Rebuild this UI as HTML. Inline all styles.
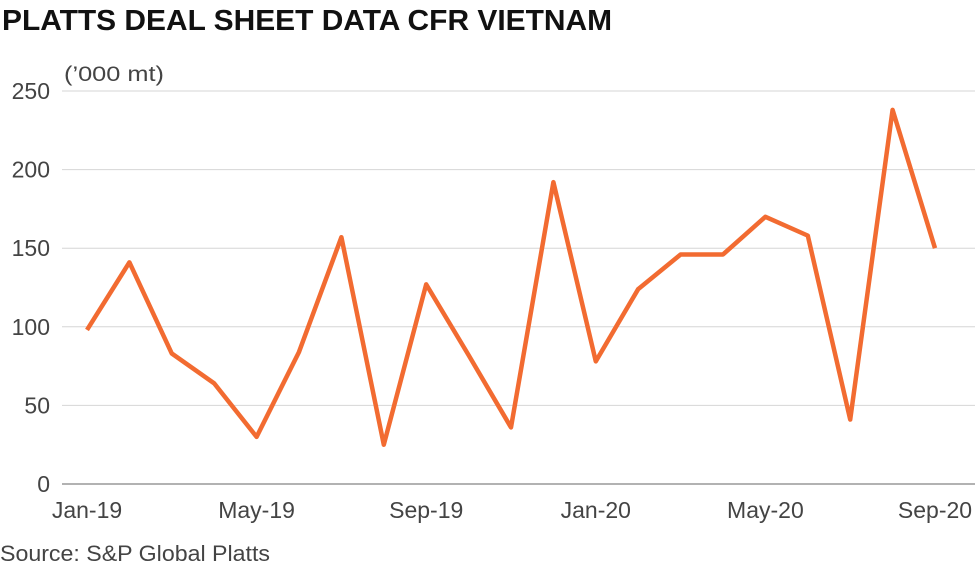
<!DOCTYPE html>
<html><head><meta charset="utf-8"><style>
body{margin:0;background:#fff;}
svg{display:block;font-family:"Liberation Sans",sans-serif;}
</style></head><body>
<svg id="chart" width="980" height="568" viewBox="0 0 980 568">
<text x="2" y="30" font-size="29" font-weight="bold" fill="#111" textLength="610" lengthAdjust="spacingAndGlyphs">PLATTS DEAL SHEET DATA CFR VIETNAM</text>
<text x="64" y="81" font-size="21" fill="#444" textLength="100" lengthAdjust="spacingAndGlyphs">(’000 mt)</text>
<g id="grid"></g>
<g id="xlabels"></g>
<path id="line" fill="none" stroke="#f26b31" stroke-width="4.5" stroke-linejoin="round"></path>
<text x="0" y="561" font-size="22" fill="#444" textLength="270" lengthAdjust="spacingAndGlyphs">Source: S&amp;P Global Platts</text>
</svg>
<script>
const months=["Jan-19","Feb-19","Mar-19","Apr-19","May-19","Jun-19","Jul-19","Aug-19","Sep-19","Oct-19","Nov-19","Dec-19","Jan-20","Feb-20","Mar-20","Apr-20","May-20","Jun-20","Jul-20","Aug-20","Sep-20"];
const values=[98,141,83,64,30,84,157,25,127,82,36,192,78,124,146,146,170,158,41,238,150];
const yTicks=[0,50,100,150,200,250];
const xTickLabels=["Jan-19","May-19","Sep-19","Jan-20","May-20","Sep-20"];
const NS="http://www.w3.org/2000/svg";
const y=v=>484-v*(393/250);
const x=i=>87+i*(848/(months.length-1));
const grid=document.getElementById('grid');
yTicks.forEach(t=>{
  const l=document.createElementNS(NS,'line');
  l.setAttribute('x1',62);l.setAttribute('x2',975);l.setAttribute('y1',y(t));l.setAttribute('y2',y(t));
  l.setAttribute('stroke',t===0?'#999':'#d6d6d6');l.setAttribute('stroke-width',t===0?1.5:1);
  
  
  grid.appendChild(l);
  const tx=document.createElementNS(NS,'text');
  tx.setAttribute('x',50);tx.setAttribute('y',y(t)+8);tx.setAttribute('text-anchor','end');
  tx.setAttribute('font-size','23');tx.setAttribute('fill','#444');tx.textContent=t;
  
  
  grid.appendChild(tx);
});
const xl=document.getElementById('xlabels');
xTickLabels.forEach(m=>{
  const i=months.indexOf(m);
  const tx=document.createElementNS(NS,'text');
  tx.setAttribute('x',x(i));tx.setAttribute('y',518);tx.setAttribute('text-anchor','middle');
  tx.setAttribute('font-size','23');tx.setAttribute('fill','#444');tx.textContent=m;
  
  
  xl.appendChild(tx);
});
document.getElementById('line').setAttribute('d',values.map((v,i)=>(i?'L':'M')+x(i)+','+y(v)).join(''));
</script>
</body></html>
